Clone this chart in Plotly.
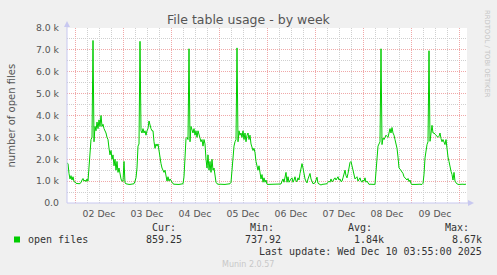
import pandas as pd
import plotly.graph_objects as go

# ---------------- data (open files, 30-minute samples) ----------------
start_time = "2025-12-01 20:00"
dec01_tail = [1830, 1800, 1350, 1100, 1250, 1050, 1200, 980]
dec02 = [950, 920, 880, 900, 870, 900, 930, 1050, 1120, 1000, 1050, 980,
         1100, 1000, 1750, 2700, 2900, 3000, 7430, 2800, 3500, 3300, 3700, 3400,
         3800, 3500, 4000, 3500, 3600, 3400, 3300, 3200, 3000, 2900, 2500, 2200,
         2400, 2000, 2200, 1700, 2000, 1500, 1900, 1400, 1600, 1300, 1100, 1000]
dec03 = [1000, 1900, 920, 880, 860, 850, 850, 850, 850, 860, 850, 880,
         1000, 1150, 1600, 2600, 2700, 7390, 3300, 3200, 3400, 3200, 3300, 3100,
         3300, 3400, 3750, 3500, 3400, 3300, 3300, 2800, 2500, 2700, 2600, 2700,
         2300, 2000, 1800, 1600, 1500, 1400, 1500, 1300, 1000, 1200, 1000, 1100]
dec04 = [1000, 900, 880, 860, 850, 850, 860, 850, 850, 860, 850, 860,
         880, 1200, 2400, 2950, 3000, 2900, 7050, 2800, 3500, 3300, 3200, 3400,
         3100, 3300, 3000, 3300, 3100, 3000, 2800, 2900, 2600, 2900, 2700, 2000,
         1600, 2200, 1500, 1900, 1400, 2000, 1500, 1600, 1200, 950, 880, 860]
dec05 = [850, 860, 850, 850, 860, 850, 850, 850, 860, 850, 860, 880,
         950, 1500, 2200, 2600, 2800, 2900, 7090, 2800, 3300, 3100, 3200, 3000,
         3300, 2900, 3200, 2800, 3100, 3200, 2900, 3100, 2700, 2500, 2400, 2500,
         2300, 1900, 1600, 1500, 1700, 1300, 1100, 1300, 950, 1150, 950, 1050]
dec06 = [860, 850, 850, 860, 850, 850, 850, 860, 850, 850, 860, 850,
         850, 860, 870, 1000, 1100, 950, 1250, 1400, 950, 1200, 950, 1000,
         1100, 1150, 950, 1050, 1200, 1000, 980, 1150, 1050, 1350, 1550, 1800,
         1600, 1300, 1100, 1000, 920, 1100, 1250, 1350, 1100, 950, 880, 900]
dec07 = [920, 1050, 1180, 900, 860, 850, 820, 850, 860, 850, 850, 860,
         880, 950, 1000, 950, 1100, 980, 1000, 1100, 1150, 1050, 1100, 1200,
         1050, 1100, 980, 1000, 1150, 1300, 1500, 1250, 1150, 1350, 1600, 1850,
         1900, 1700, 1450, 1300, 1100, 1150, 1200, 1000, 1050, 1150, 1000, 950]
dec08 = [1050, 1000, 1150, 950, 1000, 880, 850, 860, 850, 850, 860, 850,
         860, 1400, 2200, 2600, 2700, 2800, 7050, 2670, 2970, 2900, 3000, 3100,
         3050, 3000, 3200, 3400, 3200, 3450, 3200, 3100, 2900, 2700, 2500, 2100,
         1600, 1550, 1500, 1400, 1350, 1200, 1150, 1100, 1050, 1120, 980, 1050]
dec09 = [880, 850, 860, 850, 850, 850, 860, 850, 850, 860, 850, 850,
         900, 1300, 2060, 2500, 2670, 2800, 6960, 2820, 3100, 3550, 3200, 3200,
         3150, 3100, 3050, 3000, 3050, 3200, 2950, 2800, 2900, 2750, 2670, 2900,
         2400, 2100, 1900, 1600, 1450, 1300, 1050, 1400, 1000, 920, 860, 850]
dec10_head = [850, 860, 850, 850, 860, 850, 860, 859.25]

series_name = "open files"
y_tick_values = [0, 1000, 2000, 3000, 4000, 5000, 6000, 7000, 8000]
y_tick_labels = ["0.0", "1.0 k", "2.0 k", "3.0 k", "4.0 k", "5.0 k", "6.0 k", "7.0 k", "8.0 k"]
stat_headers = ["Cur:", "Min:", "Avg:", "Max:"]
stat_values = ["859.25", "737.92", "1.84k", "8.67k"]
title_text = "File table usage - by week"
y_title = "number of open files"
last_update = "Last update: Wed Dec 10 03:55:00 2025"
munin_version = "Munin 2.0.57"
side_text = "RRDTOOL / TOBI OETIKER"

values = (dec01_tail + dec02 + dec03 + dec04 + dec05 + dec06 + dec07
          + dec08 + dec09 + dec10_head)
times = pd.date_range(start=start_time, periods=len(values), freq="30min")

# ---------------- layout helpers ----------------
W, H = 497, 275
L, R, T, B = 67, 30, 28, 72
PW, PH = W - L - R, H - T - B


def px(x):
    return (x - L) / PW


def py(y):
    return (H - B - y) / PH


GREEN = "#00CC00"
AXIS = "#C8C8F0"
MAJOR = "#F0A8A8"
MINOR = "#CFCFCF"
TXT = "#555555"
LEG = "#333333"

fig = go.Figure()
fig.add_trace(go.Scatter(x=times, y=values, mode="lines", name=series_name,
                         line=dict(color=GREEN, width=1), showlegend=False,
                         hoverinfo="skip"))

fig.update_layout(
    width=W, height=H,
    margin=dict(l=L, r=R, t=T, b=B, pad=0),
    paper_bgcolor="#F0F0F0", plot_bgcolor="#FFFFFF",
    font=dict(family="DejaVu Sans", size=9, color=TXT),
    showlegend=False,
)

fig.update_xaxes(
    type="date",
    range=["2025-12-01 20:00", "2025-12-10 04:00"],
    tick0="2025-12-02", dtick=86400000,
    ticklabelmode="period", tickformat="%d %b",
    showgrid=True, gridcolor=MAJOR, griddash="1px,1px", gridwidth=1,
    minor=dict(dtick=6 * 3600000, tick0="2025-12-02", showgrid=True,
               gridcolor=MINOR, griddash="1px,1px", gridwidth=1),
    showline=False, zeroline=False, ticks="",
    tickfont=dict(family="DejaVu Sans", size=9.3, color=TXT),
    ticklabelstandoff=4,
    fixedrange=True,
)
fig.update_yaxes(
    range=[0, 8000],
    tickmode="array", tickvals=y_tick_values, ticktext=y_tick_labels,
    showgrid=True, gridcolor=MAJOR, griddash="1px,1px", gridwidth=1,
    minor=dict(dtick=500, showgrid=True, gridcolor=MINOR,
               griddash="1px,1px", gridwidth=1),
    showline=False, zeroline=False, ticks="",
    tickfont=dict(family="DejaVu Sans", size=9.3, color=TXT),
    ticklabelstandoff=7,
    fixedrange=True,
)

shapes = []
# axis lines with arrow heads
shapes.append(dict(type="line", xref="paper", yref="paper",
                   x0=0, x1=0, y0=0, y1=py(25), line=dict(color=AXIS, width=1)))
shapes.append(dict(type="path", xref="paper", yref="paper",
                   path=f"M {px(64)} {py(27)} L {px(70)} {py(27)} L {px(67)} {py(21)} Z",
                   fillcolor=AXIS, line=dict(color=AXIS, width=0)))
shapes.append(dict(type="line", xref="paper", yref="paper",
                   x0=0, x1=px(470), y0=0, y1=0, line=dict(color=AXIS, width=1)))
shapes.append(dict(type="path", xref="paper", yref="paper",
                   path=f"M {px(468)} {py(200)} L {px(468)} {py(206)} L {px(474)} {py(203)} Z",
                   fillcolor=AXIS, line=dict(color=AXIS, width=0)))
# legend swatch
shapes.append(dict(type="rect", xref="paper", yref="paper",
                   x0=px(14), x1=px(20), y0=py(242.5), y1=py(236.5),
                   fillcolor=GREEN, line=dict(color=GREEN, width=0)))
fig.update_layout(shapes=shapes)

ann = []


def add_text(text, x, y, anchor="left", size=10, color=LEG, family="DejaVu Sans Mono", angle=0):
    ann.append(dict(text=text, xref="paper", yref="paper", x=px(x), y=py(y),
                    xanchor=anchor, yanchor="middle", showarrow=False,
                    textangle=angle, borderpad=0,
                    font=dict(family=family, size=size, color=color)))


add_text(title_text, 248.5, 19, anchor="center", size=12.5, color=TXT, family="DejaVu Sans")
add_text(y_title, 11, 115.5, anchor="center", size=10, color=TXT, family="DejaVu Sans", angle=-90)
add_text(side_text, 487.5, 53.5, anchor="center", size=6.8, color="#C4C4C4",
         family="DejaVu Sans", angle=90)
add_text(series_name, 26.5, 239.5)
header_right = [176.7, 275, 372.7, 470]
value_right = [183.3, 281.7, 385, 482.7]
for h, v, hx, vx in zip(stat_headers, stat_values, header_right, value_right):
    add_text(h, hx, 227.7, anchor="right")
    add_text(v, vx, 239.5, anchor="right")
add_text(last_update, 482.5, 251, anchor="right")
add_text(munin_version, 247.7, 264.3, anchor="center", size=8, color="#C8C8C8",
         family="DejaVu Sans")
fig.update_layout(annotations=ann)

fig.write_html("out.html", config={"displayModeBar": False})
